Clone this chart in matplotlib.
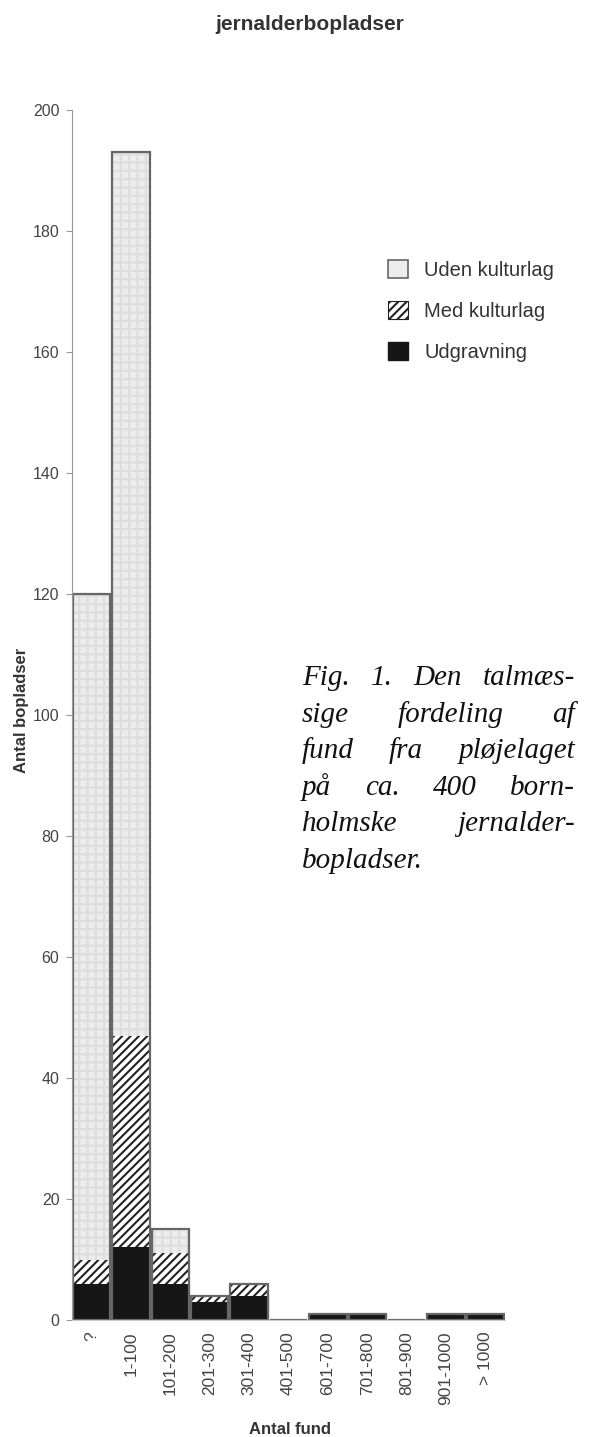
import matplotlib
matplotlib.use("Agg")
import matplotlib.pyplot as plt
import matplotlib.patches as mpatches
import numpy as np

# data
categories = ["?", "1-100", "101-200", "201-300", "301-400", "401-500",
              "601-700", "701-800", "801-900", "901-1000", "> 1000"]
udgravning = [6, 12, 6, 3, 4, 0, 1, 1, 0, 1, 1]
med_kulturlag = [4, 35, 5, 1, 2, 0, 0, 0, 0, 0, 0]
uden_kulturlag = [110, 146, 4, 0, 0, 0, 0, 0, 0, 0, 0]
series_labels = ["Uden kulturlag", "Med kulturlag", "Udgravning"]

caption_lines = [
    "Fig. 1. Den talmæs-",
    "sige fordeling af",
    "fund fra pløjelaget",
    "på ca. 400 born-",
    "holmske jernalder-",
    "bopladser.",
]

plt.rcParams["font.family"] = ["Liberation Sans", "DejaVu Sans"]
plt.rcParams["hatch.linewidth"] = 1.5

W, H = 590, 1437
fig = plt.figure(figsize=(W / 100, H / 100), dpi=100)
ax = fig.add_axes([72 / W, 1 - 1320 / H, (505 - 72) / W, (1320 - 110) / H])

x = np.arange(len(categories))
ud = np.array(udgravning)
med = np.array(med_kulturlag)
uden = np.array(uden_kulturlag)
width = 0.95

ax.bar(x, ud, width, color="#161616", edgecolor="#161616", linewidth=0.8)
ax.bar(x, med, width, bottom=ud, facecolor="white", edgecolor="#222222",
       hatch="////", linewidth=0)
ax.bar(x, uden, width, bottom=ud + med, facecolor="#ececec",
       edgecolor="#dddddd", hatch="++", linewidth=0)
# outlines of the stacked bars
tot = ud + med + uden
ax.bar(x, tot, width, fill=False, edgecolor="#666666", linewidth=1.6)

ax.set_xlim(-0.5, 10.5)
ax.set_ylim(0, 200)
ax.set_yticks(range(0, 201, 20))
ax.set_xticks(x)
ax.set_xticklabels(categories, rotation=90, fontsize=12.5, color="#444444")
ax.tick_params(axis="x", length=0, pad=8)
ax.tick_params(axis="y", length=4, color="#999999", labelsize=11.5,
               labelcolor="#444444", pad=5)
for s in ["top", "right"]:
    ax.spines[s].set_visible(False)
ax.spines["left"].set_color("#999999")
ax.spines["bottom"].set_color("#cccccc")
ax.patch.set_alpha(0)

# titles and axis labels
fig.text(310 / W, 1 - 24 / H, "jernalderbopladser", ha="center", va="center",
         fontsize=15, fontweight="bold", color="#333333")
fig.text(22 / W, 1 - 710 / H, "Antal bopladser", rotation=90, ha="center",
         va="center", fontsize=12, fontweight="bold", color="#333333")
fig.text(290 / W, 1 - 1430 / H, "Antal fund", ha="center", va="center",
         fontsize=12, fontweight="bold", color="#333333")

# legend
handles = [
    mpatches.Patch(facecolor="#ececec", edgecolor="#666666", linewidth=1.2,
                   label=series_labels[0]),
    mpatches.Patch(facecolor="white", edgecolor="#222222", hatch="////",
                   linewidth=0.8, label=series_labels[1]),
    mpatches.Patch(facecolor="#161616", edgecolor="#161616",
                   label=series_labels[2]),
]
fig.legend(handles=handles, loc="upper left",
           bbox_to_anchor=(370 / W, 1 - 242 / H), frameon=False,
           fontsize=14.5, handlelength=1.0, handleheight=1.0,
           handletextpad=0.8, labelspacing=1.05, labelcolor="#333333")

# justified caption
x0, x1 = 302, 575
base0, step = 685, 36.6
cap_kw = dict(family=["Liberation Serif", "DejaVu Serif"], style="italic",
              fontsize=21, color="#111111", va="baseline", ha="left")
renderer = fig.canvas.get_renderer()
for i, line in enumerate(caption_lines):
    yb = 1 - (base0 + i * step) / H
    words = line.split()
    if i == len(caption_lines) - 1 or len(words) == 1:
        fig.text(x0 / W, yb, line, **cap_kw)
        continue
    widths = []
    for w in words:
        t = fig.text(0, 0, w, **cap_kw)
        widths.append(t.get_window_extent(renderer).width)
        t.remove()
    gap = (x1 - x0 - sum(widths)) / (len(words) - 1)
    cx = x0
    for w, wd in zip(words, widths):
        fig.text(cx / W, yb, w, **cap_kw)
        cx += wd + gap

fig.savefig("out.png", dpi=100)
